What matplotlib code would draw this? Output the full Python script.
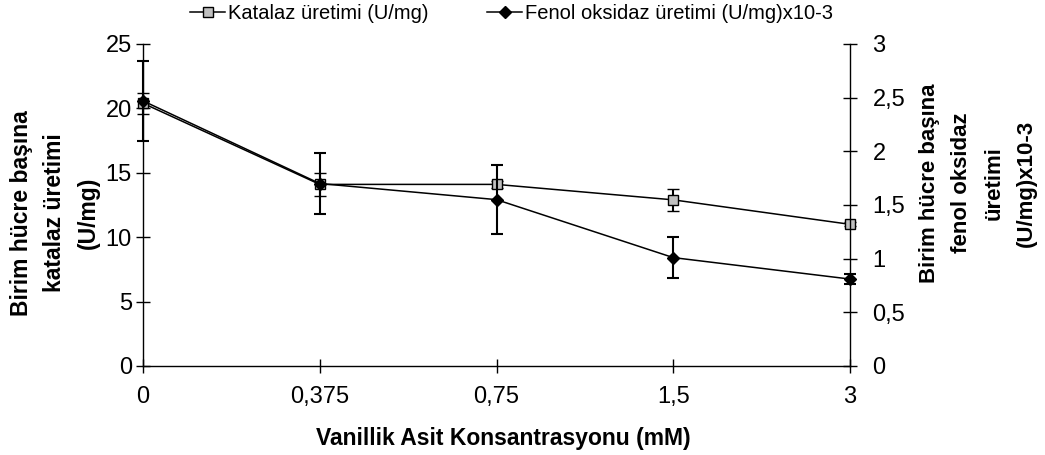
import matplotlib
matplotlib.use("Agg")
import matplotlib.pyplot as plt
from matplotlib.lines import Line2D
from matplotlib.ticker import FuncFormatter

plt.rcParams['font.family'] = ['Liberation Sans', 'DejaVu Sans']

# data
konsantrasyon = ['0', '0,375', '0,75', '1,5', '3']
katalaz = [20.4, 14.1, 14.1, 12.9, 11.0]
katalaz_err = [0.8, 0.9, 0.3, 0.85, 0.15]
fenol = [2.47, 1.70, 1.55, 1.01, 0.81]
fenol_err = [0.37, 0.28, 0.32, 0.19, 0.05]

W, H = 1045, 455
fig = plt.figure(figsize=(W / 100, H / 100), dpi=100)
ax = fig.add_axes([143 / W, 1 - 366 / H, (850 - 143) / W, (366 - 44) / H])
ax2 = ax.twinx()

xs = range(len(konsantrasyon))
fs_tick = 17
fs_lab = 16.5

ax.errorbar(xs, katalaz, yerr=katalaz_err, color='black', lw=1.1, elinewidth=1.5,
            capsize=4.5, capthick=1.5, marker='s', ms=6.5, mfc='#c0c0c0', mec='black',
            mew=1.0, clip_on=False, zorder=3)
ax2.errorbar(xs, fenol, yerr=fenol_err, color='black', lw=1.1, elinewidth=1.5,
             capsize=4.5, capthick=1.5, marker='D', ms=6, mfc='black', mec='black',
             clip_on=False, zorder=3)

ax.set_xlim(0, len(konsantrasyon) - 1)
ax.set_ylim(0, 25)
ax2.set_ylim(0, 3)
ax.set_xticks(list(xs))
ax.set_xticklabels(konsantrasyon)
ax.set_yticks(range(0, 26, 5))
ax2.set_yticks([0, 0.5, 1, 1.5, 2, 2.5, 3])
ax2.yaxis.set_major_formatter(FuncFormatter(lambda v, p: ('%g' % v).replace('.', ',')))

for a in (ax, ax2):
    a.spines['top'].set_visible(False)
    for s in a.spines.values():
        s.set_linewidth(1.0)
ax.spines['right'].set_visible(False)
ax2.spines['left'].set_visible(False)
ax2.spines['bottom'].set_visible(False)
ax.tick_params(axis='both', direction='inout', length=10.5, width=1.0, labelsize=fs_tick)
ax.tick_params(axis='x', pad=9)
ax.tick_params(axis='y', pad=2.7)
ax2.tick_params(axis='y', direction='inout', length=10.5, width=1.0, labelsize=fs_tick, pad=11)

fig.text(503 / W, 1 - 438 / H, 'Vanillik Asit Konsantrasyonu (mM)', ha='center', va='center',
         fontsize=fs_lab, fontweight='bold')
fig.text(55 / W, 1 - 213 / H, 'Birim hücre başına\nkatalaz üretimi\n(U/mg)', rotation=90,
         ha='center', va='center', multialignment='center', fontsize=fs_lab, fontweight='bold',
         linespacing=1.6)
fig.text(978 / W, 1 - 183 / H, 'Birim hücre başına\nfenol oksidaz\nüretimi\n(U/mg)x10-3',
         rotation=90, ha='center', va='center', multialignment='center', fontsize=16,
         fontweight='bold', linespacing=1.72)

handles = [Line2D([], [], color='black', lw=1.1, marker='s', ms=6.5, mfc='#c0c0c0', mec='black'),
           Line2D([], [], color='black', lw=1.1, marker='D', ms=6, mfc='black', mec='black')]
fig.legend(handles, ['Katalaz üretimi (U/mg)', 'Fenol oksidaz üretimi (U/mg)x10-3'],
           loc='upper left', bbox_to_anchor=(188 / W, 1 - 2 / H), ncol=2, frameon=False,
           fontsize=14.5, handlelength=1.75, handletextpad=0.15, columnspacing=2.9,
           borderpad=0.0, borderaxespad=0.1)

fig.savefig('out.png', dpi=100)
